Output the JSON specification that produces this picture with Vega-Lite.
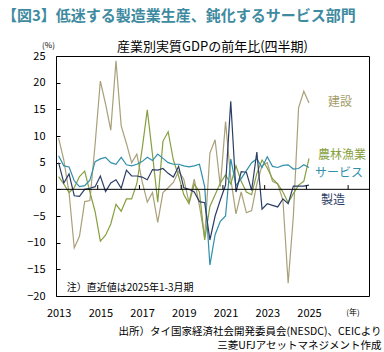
{
  "$schema": "https://vega.github.io/schema/vega-lite/v6.json",
  "width": 313,
  "height": 240,
  "autosize": {"type": "none"},
  "padding": {"left": 56, "top": 56, "right": 15, "bottom": 56},
  "config": {
    "font": "Noto Sans CJK JP",
    "view": {"stroke": "#000000", "strokeWidth": 1},
    "axis": {"grid": false},
    "axisY": {"tickCount": 10, "labelOverlap": false, "labelFlush": false, "labelBound": false}
  },
  "title": {
    "text": "【図3】低迷する製造業生産、鈍化するサービス部門",
    "anchor": "start",
    "frame": "group",
    "dx": -54,
    "offset": 17,
    "fontSize": 15,
    "fontWeight": "bold",
    "color": "#3E8AA0",
    "font": "Noto Sans CJK JP"
  },
  "datasets": {
    "gdp": [
      {"t": 2013.00, "建設": 9.6, "農林漁業": 2.4, "サービス": 6.3, "製造": 5.0},
      {"t": 2013.25, "建設": 5.5, "農林漁業": 1.0, "サービス": 4.4, "製造": 1.2},
      {"t": 2013.50, "建設": -0.6, "農林漁業": -0.6, "サービス": 4.2, "製造": 2.9},
      {"t": 2013.75, "建設": -11.0, "農林漁業": 0.3, "サービス": 1.6, "製造": -1.2},
      {"t": 2014.00, "建設": -8.8, "農林漁業": 2.4, "サービス": 0.5, "製造": -1.3},
      {"t": 2014.25, "建設": -2.3, "農林漁業": 3.4, "サービス": 0.7, "製造": 0.0},
      {"t": 2014.50, "建設": -2.1, "農林漁業": -0.5, "サービス": 1.7, "製造": 0.2},
      {"t": 2014.75, "建設": 8.5, "農林漁業": -4.2, "サービス": 5.2, "製造": 0.5},
      {"t": 2015.00, "建設": 20.3, "農林漁業": -9.7, "サービス": 5.7, "製造": 2.5},
      {"t": 2015.25, "建設": 16.0, "農林漁業": -8.6, "サービス": 6.0, "製造": -0.4},
      {"t": 2015.50, "建設": 11.1, "農林漁業": -6.5, "サービス": 5.0, "製造": 1.2},
      {"t": 2015.75, "建設": 24.1, "農林漁業": -2.8, "サービス": 4.7, "製造": 1.8},
      {"t": 2016.00, "建設": 11.9, "農林漁業": -4.1, "サービス": 6.0, "製造": 0.2},
      {"t": 2016.25, "建設": 8.6, "農林漁業": -1.8, "サービス": 4.6, "製造": 3.6},
      {"t": 2016.50, "建設": 5.0, "農林漁業": -1.8, "サービス": 4.4, "製造": 2.5},
      {"t": 2016.75, "建設": 6.6, "農林漁業": 1.1, "サービス": 4.7, "製造": 2.5},
      {"t": 2017.00, "建設": 1.5, "農林漁業": 7.5, "サービス": 5.2, "製造": 2.3},
      {"t": 2017.25, "建設": -2.4, "農林漁業": 14.9, "サービス": 6.0, "製造": 1.8},
      {"t": 2017.50, "建設": -0.6, "農林漁業": 6.5, "サービス": 5.4, "製造": 3.7},
      {"t": 2017.75, "建設": -6.2, "農林漁業": -2.4, "サービス": 6.6, "製造": 3.6},
      {"t": 2018.00, "建設": -0.6, "農林漁業": 9.0, "サービス": 5.8, "製造": 3.9},
      {"t": 2018.25, "建設": 0.3, "農林漁業": 10.8, "サービス": 5.0, "製造": 3.0},
      {"t": 2018.50, "建設": 1.3, "農林漁業": 5.5, "サービス": 4.7, "製造": 2.3},
      {"t": 2018.75, "建設": 3.4, "農林漁業": 2.5, "サービス": 4.7, "製造": 4.3},
      {"t": 2019.00, "建設": 1.9, "農林漁業": -1.0, "サービス": 4.4, "製造": 0.3},
      {"t": 2019.25, "建設": -2.5, "農林漁業": -2.7, "サービス": 4.2, "製造": 0.0},
      {"t": 2019.50, "建設": 1.9, "農林漁業": 1.0, "サービス": 4.4, "製造": -0.5},
      {"t": 2019.75, "建設": -3.1, "農林漁業": -0.5, "サービス": 4.7, "製造": -2.3},
      {"t": 2020.00, "建設": -9.0, "農林漁業": -9.5, "サービス": 0.5, "製造": -2.5},
      {"t": 2020.25, "建設": 6.8, "農林漁業": -3.2, "サービス": -14.2, "製造": -9.5},
      {"t": 2020.50, "建設": 9.3, "農林漁業": -1.0, "サービス": -8.5, "製造": -5.0},
      {"t": 2020.75, "建設": 0.5, "農林漁業": 1.2, "サービス": -6.0, "製造": -2.0},
      {"t": 2021.00, "建設": 12.7, "農林漁業": 2.7, "サービス": -5.0, "製造": 0.8},
      {"t": 2021.25, "建設": 2.0, "農林漁業": 1.0, "サービス": 5.7, "製造": 16.5},
      {"t": 2021.50, "建設": -4.6, "農林漁業": 4.4, "サービス": 0.7, "製造": -0.5},
      {"t": 2021.75, "建設": -0.5, "農林漁業": 1.5, "サービス": 2.0, "製造": 3.3},
      {"t": 2022.00, "建設": -4.4, "農林漁業": -0.5, "サービス": 3.5, "製造": 3.2},
      {"t": 2022.25, "建設": -4.0, "農林漁業": -1.0, "サービス": 5.0, "製造": -0.2},
      {"t": 2022.50, "建設": 1.0, "農林漁業": 3.0, "サービス": 5.7, "製造": 7.0},
      {"t": 2022.75, "建設": 4.5, "農林漁業": 5.5, "サービス": 4.1, "製造": -3.7},
      {"t": 2023.00, "建設": 5.0, "農林漁業": 4.0, "サービス": 6.1, "製造": -2.7},
      {"t": 2023.25, "建設": 1.5, "農林漁業": 2.0, "サービス": 4.3, "製造": -3.0},
      {"t": 2023.50, "建設": 1.0, "農林漁業": 1.0, "サービス": 4.1, "製造": -3.3},
      {"t": 2023.75, "建設": -2.0, "農林漁業": -0.5, "サービス": 4.5, "製造": -1.8},
      {"t": 2024.00, "建設": -17.6, "農林漁業": -2.5, "サービス": 4.6, "製造": -2.7},
      {"t": 2024.25, "建設": -5.0, "農林漁業": -0.8, "サービス": 3.8, "製造": 0.6},
      {"t": 2024.50, "建設": 15.3, "農林漁業": 0.8, "サービス": 3.9, "製造": 0.6},
      {"t": 2024.75, "建設": 18.4, "農林漁業": 1.5, "サービス": 4.6, "製造": 0.6},
      {"t": 2025.00, "建設": 16.2, "農林漁業": 5.8, "サービス": 4.1, "製造": 0.8}
    ],
    "boundaries": [
      {"t": 2014.875}, {"t": 2016.875}, {"t": 2018.875}, {"t": 2020.875},
      {"t": 2022.875}, {"t": 2024.875}, {"t": 2026.875}
    ],
    "one": [{}]
  },
  "layer": [
    {
      "data": {"name": "gdp"},
      "transform": [{"fold": ["建設", "農林漁業", "サービス", "製造"], "as": ["series", "value"]}],
      "mark": {"type": "line", "clip": true},
      "encoding": {
        "x": {
          "field": "t", "type": "quantitative",
          "scale": {"domain": [2012.875, 2027.875], "nice": false, "zero": false},
          "axis": {
            "values": [2013, 2015, 2017, 2019, 2021, 2023, 2025],
            "format": "d",
            "ticks": false,
            "domain": false,
            "labelFontSize": 11,
            "labelColor": "#000000",
            "labelPadding": 11,
            "labelOverlap": false,
            "title": ["出所）タイ国家経済社会開発委員会(NESDC)、CEICより", "三菱UFJアセットマネジメント作成"],
            "titleFontSize": 10.5,
            "titleFontWeight": "normal",
            "titleColor": "#000000",
            "titleX": 325,
            "titleY": 30,
            "titleAlign": "right",
            "titleBaseline": "top",
            "titleLineHeight": 14.5
          }
        },
        "y": {
          "field": "value", "type": "quantitative",
          "scale": {"domain": [-20, 25], "nice": false, "zero": false},
          "axis": {
            "values": [-20, -15, -10, -5, 0, 5, 10, 15, 20, 25],
            "tickCount": 10,
            "domain": false,
            "ticks": true,
            "tickSize": -4,
            "tickColor": "#000000",
            "labelFontSize": 11,
            "labelColor": "#000000",
            "labelPadding": 15,
            "labelOverlap": false,
            "labelFlush": false,
            "labelBound": false,
            "title": "(%)",
            "titleFontSize": 8,
            "titleFontWeight": "normal",
            "titleColor": "#000000",
            "titleAngle": 0,
            "titleX": -8,
            "titleY": -11,
            "titleAlign": "center",
            "titleBaseline": "middle"
          }
        },
        "color": {
          "field": "series", "type": "nominal",
          "scale": {"domain": ["建設", "農林漁業", "サービス", "製造"], "range": ["#A9A07A", "#86A040", "#318FAB", "#2C3E66"]},
          "legend": null
        },
        "strokeWidth": {
          "field": "series", "type": "nominal",
          "scale": {"domain": ["建設", "農林漁業", "サービス", "製造"], "range": [1.2, 1.2, 2, 2.2]},
          "legend": null
        }
      }
    },
    {
      "data": {"name": "one"},
      "mark": {"type": "rule", "color": "#000000", "strokeWidth": 1},
      "encoding": {
        "y": {"datum": 0, "type": "quantitative", "scale": {"domain": [-20, 25], "nice": false, "zero": false}}
      }
    },
    {
      "data": {"name": "boundaries"},
      "mark": {"type": "rule", "color": "#000000", "strokeWidth": 1},
      "encoding": {
        "x": {"field": "t", "type": "quantitative", "scale": {"domain": [2012.875, 2027.875], "nice": false, "zero": false}},
        "y": {"datum": 0, "type": "quantitative", "scale": {"domain": [-20, 25], "nice": false, "zero": false}},
        "y2": {"datum": 0.8}
      }
    },
    {
      "data": {"name": "one"},
      "mark": {"type": "text", "text": "産業別実質GDPの前年比(四半期)", "fontSize": 13, "color": "#000000", "align": "center", "baseline": "middle"},
      "encoding": {
        "x": {"datum": 2020.375, "type": "quantitative", "scale": {"domain": [2012.875, 2027.875], "nice": false, "zero": false}},
        "y": {"datum": 26.7, "type": "quantitative", "scale": {"domain": [-20, 25], "nice": false, "zero": false}}
      }
    },
    {
      "data": {"name": "one"},
      "mark": {"type": "text", "text": "(年)", "fontSize": 8, "color": "#000000", "align": "center", "baseline": "middle"},
      "encoding": {
        "x": {"datum": 2027.11, "type": "quantitative", "scale": {"domain": [2012.875, 2027.875], "nice": false, "zero": false}},
        "y": {"datum": -23.2, "type": "quantitative", "scale": {"domain": [-20, 25], "nice": false, "zero": false}}
      }
    },
    {
      "data": {"name": "one"},
      "mark": {"type": "text", "text": "注）直近値は2025年1-3月期", "fontSize": 10, "color": "#000000", "align": "left", "baseline": "middle"},
      "encoding": {
        "x": {"datum": 2013.39, "type": "quantitative", "scale": {"domain": [2012.875, 2027.875], "nice": false, "zero": false}},
        "y": {"datum": -18.45, "type": "quantitative", "scale": {"domain": [-20, 25], "nice": false, "zero": false}}
      }
    },
    {
      "data": {"name": "one"},
      "mark": {"type": "text", "text": "建設", "fontSize": 12, "color": "#A59D68", "align": "center", "baseline": "middle"},
      "encoding": {
        "x": {"datum": 2026.48, "type": "quantitative", "scale": {"domain": [2012.875, 2027.875], "nice": false, "zero": false}},
        "y": {"datum": 16.4, "type": "quantitative", "scale": {"domain": [-20, 25], "nice": false, "zero": false}}
      }
    },
    {
      "data": {"name": "one"},
      "mark": {"type": "text", "text": "農林漁業", "fontSize": 12, "color": "#86A040", "align": "center", "baseline": "middle"},
      "encoding": {
        "x": {"datum": 2026.58, "type": "quantitative", "scale": {"domain": [2012.875, 2027.875], "nice": false, "zero": false}},
        "y": {"datum": 6.35, "type": "quantitative", "scale": {"domain": [-20, 25], "nice": false, "zero": false}}
      }
    },
    {
      "data": {"name": "one"},
      "mark": {"type": "text", "text": "サービス", "fontSize": 12, "color": "#318FAB", "align": "center", "baseline": "middle"},
      "encoding": {
        "x": {"datum": 2026.44, "type": "quantitative", "scale": {"domain": [2012.875, 2027.875], "nice": false, "zero": false}},
        "y": {"datum": 3.1, "type": "quantitative", "scale": {"domain": [-20, 25], "nice": false, "zero": false}}
      }
    },
    {
      "data": {"name": "one"},
      "mark": {"type": "text", "text": "製造", "fontSize": 12, "color": "#2C3E66", "align": "center", "baseline": "middle"},
      "encoding": {
        "x": {"datum": 2026.15, "type": "quantitative", "scale": {"domain": [2012.875, 2027.875], "nice": false, "zero": false}},
        "y": {"datum": -2.0, "type": "quantitative", "scale": {"domain": [-20, 25], "nice": false, "zero": false}}
      }
    }
  ]
}
